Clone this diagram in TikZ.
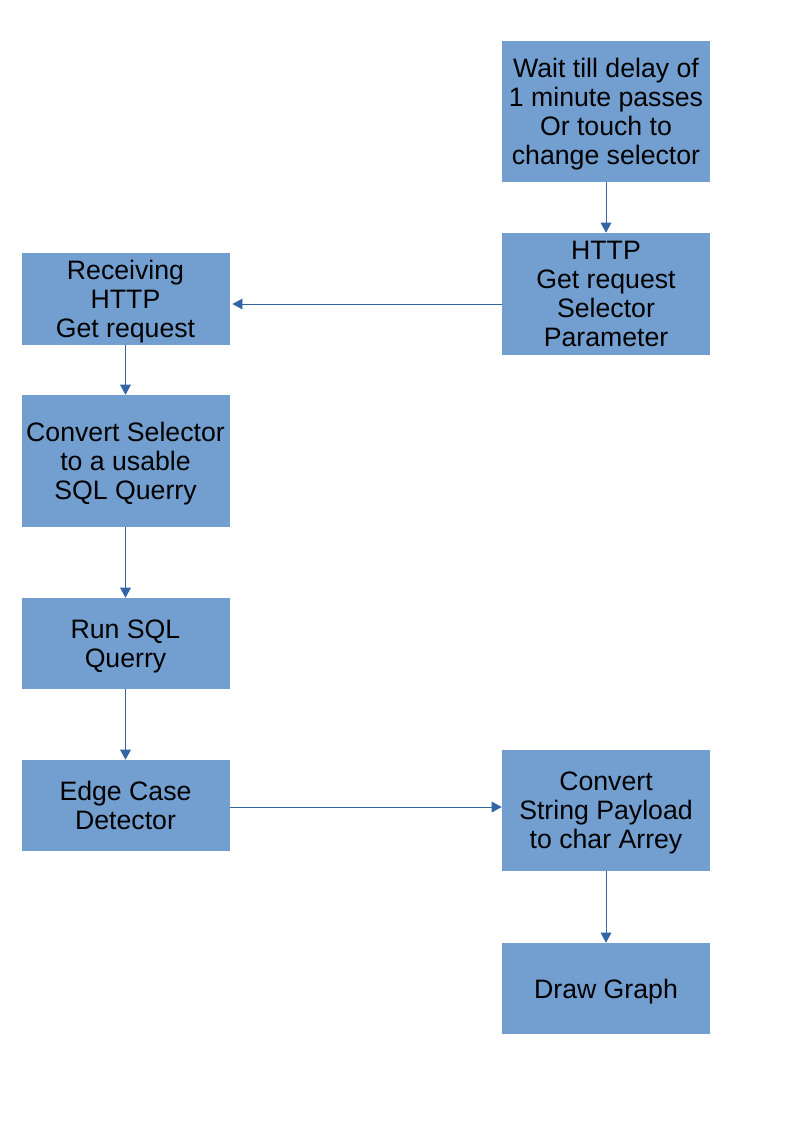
\documentclass[tikz,border=0pt]{standalone}
\usepackage{fontspec}
\setmainfont{Liberation Sans}
\usetikzlibrary{arrows.meta}
\definecolor{boxfill}{HTML}{729FCF}
\definecolor{lineblue}{HTML}{3465A4}
\begin{document}
\begin{tikzpicture}[x=0.75pt,y=-0.75pt,
		stepbox/.style={fill=boxfill, minimum width=156pt, align=center, inner sep=0pt, font=\fontsize{20}{21.75}\selectfont, text depth=0pt},
		flow/.style={draw=lineblue, line width=0.6pt, -{Triangle[length=7.5pt,width=8pt]}, color=lineblue}]
		\useasboundingbox (0,0) rectangle (794,1123);
		% right column
		\node[stepbox, minimum height=105.75pt] (wait) at (606,111.5) {Wait till delay of\\1 minute passes\\Or touch to\\change selector};
		\node[stepbox, minimum height=91.5pt] (http) at (606,294) {HTTP\\Get request\\Selector\\Parameter};
		\node[stepbox, minimum height=90.75pt] (payload) at (606,810.5) {Convert\\String Payload\\to char Arrey};
		\node[stepbox, minimum height=68.25pt] (graph) at (606,988.5) {Draw Graph};
		% left column
		\node[stepbox, minimum height=69pt] (recv) at (125.5,299) {Receiving\\HTTP\\Get request};
		\node[stepbox, minimum height=99pt] (query) at (125.5,461) {Convert Selector\\to a usable\\SQL Querry};
		\node[stepbox, minimum height=68.25pt] (run) at (125.5,643.5) {Run SQL\\Querry};
		\node[stepbox, minimum height=68.25pt] (edge) at (125.5,805.5) {Edge Case\\Detector};
		
		\foreach \a/\b in {wait/http, recv/query, query/run, run/edge, payload/graph}{
			\draw[flow] (\a.south) -- (\b.north);
		}
		\draw[flow] (http.west |- 0,304) -- ([xshift=2pt]recv.east |- 0,304);
		\draw[flow] (edge.east |- 0,807) -- (payload.west |- 0,807);
\end{tikzpicture}
\end{document}
